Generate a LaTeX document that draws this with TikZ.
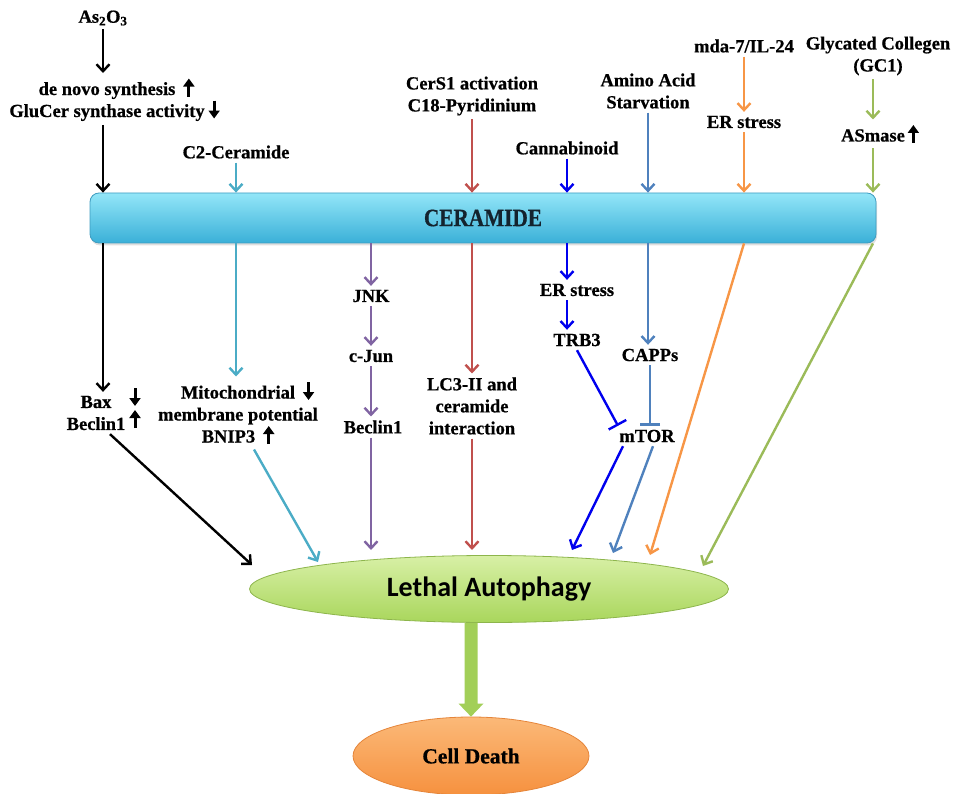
\documentclass[tikz,border=0pt]{standalone}
\usepackage{fontspec}
\setmainfont{Liberation Serif}[BoldFeatures={FakeBold=0.7}]
\newfontfamily\calib{Carlito}
\usetikzlibrary{arrows.meta,shapes.geometric,shadows,calc}
\definecolor{cCyan}{HTML}{4BACC6}
\definecolor{cRed}{HTML}{C0504D}
\definecolor{cPurple}{HTML}{8064A2}
\definecolor{cBlue}{HTML}{0000EE}
\definecolor{cSteel}{HTML}{4F81BD}
\definecolor{cOrange}{HTML}{F79646}
\definecolor{cGreen}{HTML}{9BBB59}
\definecolor{barTop}{HTML}{93E6F8}
\definecolor{barBot}{HTML}{3AB0D8}
\definecolor{barEdge}{HTML}{3E9CC0}
\definecolor{barText}{HTML}{14232E}
\definecolor{laTop}{HTML}{D8F0A6}
\definecolor{laBot}{HTML}{A9D65C}
\definecolor{laEdge}{HTML}{8DB54C}
\definecolor{cdTop}{HTML}{FBB978}
\definecolor{cdBot}{HTML}{F6913F}
\definecolor{cdEdge}{HTML}{E5853A}
\definecolor{cThick}{HTML}{A2CF58}
\newcommand{\glypharrow}[2]{%
  \begin{pgfpicture}%
    \pgfsetlinewidth{3pt}%
    \pgfsetarrowsend{Triangle[length=8pt,width=11pt]}%
    \pgfpathmoveto{\pgfpoint{0pt}{#1}}%
    \pgfpathlineto{\pgfpoint{0pt}{#2}}%
    \pgfusepath{stroke}%
  \end{pgfpicture}}
\newcommand{\uparr}{\raisebox{-3pt}{\glypharrow{0pt}{18pt}}}
\newcommand{\dnarr}{\raisebox{-3pt}{\glypharrow{18pt}{0pt}}}
\begin{document}
\begin{tikzpicture}[x=1pt,y=-1pt,
  lbl/.style={font=\fontsize{18.5}{22}\selectfont\bfseries, align=center, inner sep=1pt, outer sep=3pt},
  arr/.style={line width=2.4pt, -{Straight Barb[length=7pt,width=13pt]}},
  inh/.style={line width=2.4pt, -{Bar[width=20pt]}},
  barst/.style={draw=barEdge, line width=0.8pt, rounded corners=9pt, top color=barTop, bottom color=barBot,
    minimum width=786pt, minimum height=50pt, inner sep=0pt, text=barText,
    drop shadow={opacity=0.25, shadow xshift=1pt, shadow yshift=-2.5pt},
    font=\fontsize{25}{28}\selectfont\bfseries},
  laell/.style={ellipse, draw=laEdge, line width=0.8pt, top color=laTop, bottom color=laBot,
    minimum width=479pt, minimum height=67pt, inner sep=0pt,
    font=\calib\fontsize{28}{32}\selectfont\bfseries},
  cdell/.style={ellipse, draw=cdEdge, line width=0.8pt, top color=cdTop, bottom color=cdBot,
    minimum width=236pt, minimum height=78pt, inner sep=0pt,
    font=\fontsize{21.5}{24}\selectfont\bfseries},
]
\useasboundingbox (0,0) rectangle (958,794);

% top sources
\node[lbl] (as) at (103,18) {As\textsubscript{2}O\textsubscript{3}};
\node[lbl] (denovo) at (107,99) {de novo synthesis\rlap{\hspace{8pt}\uparr}\\GluCer synthase activity\rlap{\hspace{4pt}\dnarr}};
\node[lbl] (c2) at (236,152) {C2-Ceramide};
\node[lbl] (cers) at (472,96) {CerS1 activation\\C18-Pyridinium};
\node[lbl] (cann) at (567,148) {Cannabinoid};
\node[lbl] (amino) at (648,91) {Amino Acid\\Starvation};
\node[lbl] (mda) at (744,46) {mda-7/IL-24};
\node[lbl] (er1) at (744,122) {ER stress};
\node[lbl] (gc) at (878,56) {Glycated Collegen\\(GC1)};
\node[lbl] (asm) at (873,134) {ASmase\rlap{\hspace{3pt}\uparr}};

% ceramide bar
\node[barst] (bar) at (483,218) {\scalebox{0.85}[1]{CERAMIDE}};

% middle nodes
\node[lbl] (bax) at (96,413) {Bax\\Beclin1};
\node[lbl] (baxdn) at (135,397) {\dnarr};
\node[lbl] (becup) at (135,419) {\uparr};
\node[lbl] (mito) at (238,413) {Mitochondrial\rlap{\hspace{8pt}\dnarr}\\membrane potential\\BNIP3\hspace{8pt}\uparr};
\node[lbl] (jnk) at (371,296) {JNK};
\node[lbl] (cjun) at (371,356) {c-Jun};
\node[lbl] (bec) at (373,427) {Beclin1};
\node[lbl] (lc3) at (472,406) {LC3-II and\\ceramide\\interaction};
\node[lbl] (er2) at (577,290) {ER stress};
\node[lbl] (trb3) at (577,340) {TRB3};
\node[lbl] (capps) at (650,355) {CAPPs};
\node[lbl] (mtor) at (647,436) {mTOR};

% bottom
\node[laell] (la) at (489,589) {Lethal Autophagy};
\node[cdell] (cd) at (471,756) {Cell Death};

% arrow end points near the ellipse
\coordinate (tBlack) at (252,565);
\coordinate (tCyan) at (318,562);
\coordinate (tPurple) at (371,550);
\coordinate (tRed) at (472,550);
\coordinate (tBlue) at (572,550);
\coordinate (tSteel) at (613,553);
\coordinate (tOrange) at (650,555);
\coordinate (tGreen) at (703,566);

% top arrows
\draw[arr] (as.south) -- (as.south |- denovo.north);
\draw[arr] (as.south |- denovo.south) -- (as.south |- bar.north);
\draw[arr, cCyan] (c2.south) -- (c2.south |- bar.north);
\draw[arr, cRed] (cers.south) -- (cers.south |- bar.north);
\draw[arr, cBlue] (cann.south) -- (cann.south |- bar.north);
\draw[arr, cSteel] (amino.south) -- (amino.south |- bar.north);
\draw[arr, cOrange] (mda.south) -- (er1.north);
\draw[arr, cOrange] (er1.south) -- (er1.south |- bar.north);
\draw[arr, cGreen] (gc.south -| asm.north) -- (asm.north);
\draw[arr, cGreen] (asm.south) -- (asm.south |- bar.north);

% below bar
\draw[arr] (as.south |- bar.south) -- (as.south |- bax.north);
\draw[arr] ([xshift=14pt]bax.south) -- (tBlack);
\draw[arr, cCyan] (c2.south |- bar.south) -- (c2.south |- mito.north);
\draw[arr, cCyan] ([xshift=16pt]mito.south) -- (tCyan);
\draw[arr, cPurple] (jnk.north |- bar.south) -- (jnk.north);
\draw[arr, cPurple] (jnk) -- (cjun);
\draw[arr, cPurple] (cjun.south) -- (cjun.south |- bec.north);
\draw[arr, cPurple] (bec.south -| tPurple) -- (tPurple);
\draw[arr, cRed] (lc3.north |- bar.south) -- (lc3.north);
\draw[arr, cRed] (lc3.south) -- (tRed);
\draw[arr, cBlue] (cann.south |- bar.south) -- (cann.south |- er2.north);
\draw[arr, cBlue] (cann.south |- er2.south) -- (cann.south |- trb3.north);
\draw[inh, cBlue] (trb3.south) -- ([xshift=-29pt]mtor.north);
\draw[arr, cBlue] ([xshift=-24pt]mtor.south) -- (tBlue);
\draw[arr, cSteel] (amino.south |- bar.south) -- (amino.south |- capps.north);
\draw[inh, cSteel] (capps.south) -- (capps.south |- mtor.north);
\draw[arr, cSteel] ([xshift=6pt]mtor.south) -- (tSteel);
\draw[arr, cOrange] (er1.south |- bar.south) -- (tOrange);
\draw[arr, cGreen] (asm.south |- bar.south) -- (tGreen);

% thick arrow to cell death
\coordinate (tA) at (cd.north |- la.south);
\coordinate (tB) at (cd.north);
\fill[cThick] ([xshift=-6.5pt]tA) -- ([xshift=-6.5pt,yshift=13pt]tB) -- ([xshift=-12.5pt,yshift=13pt]tB)
  -- (tB) -- ([xshift=12.5pt,yshift=13pt]tB) -- ([xshift=6.5pt,yshift=13pt]tB) -- ([xshift=6.5pt]tA) -- cycle;
\end{tikzpicture}
\end{document}
